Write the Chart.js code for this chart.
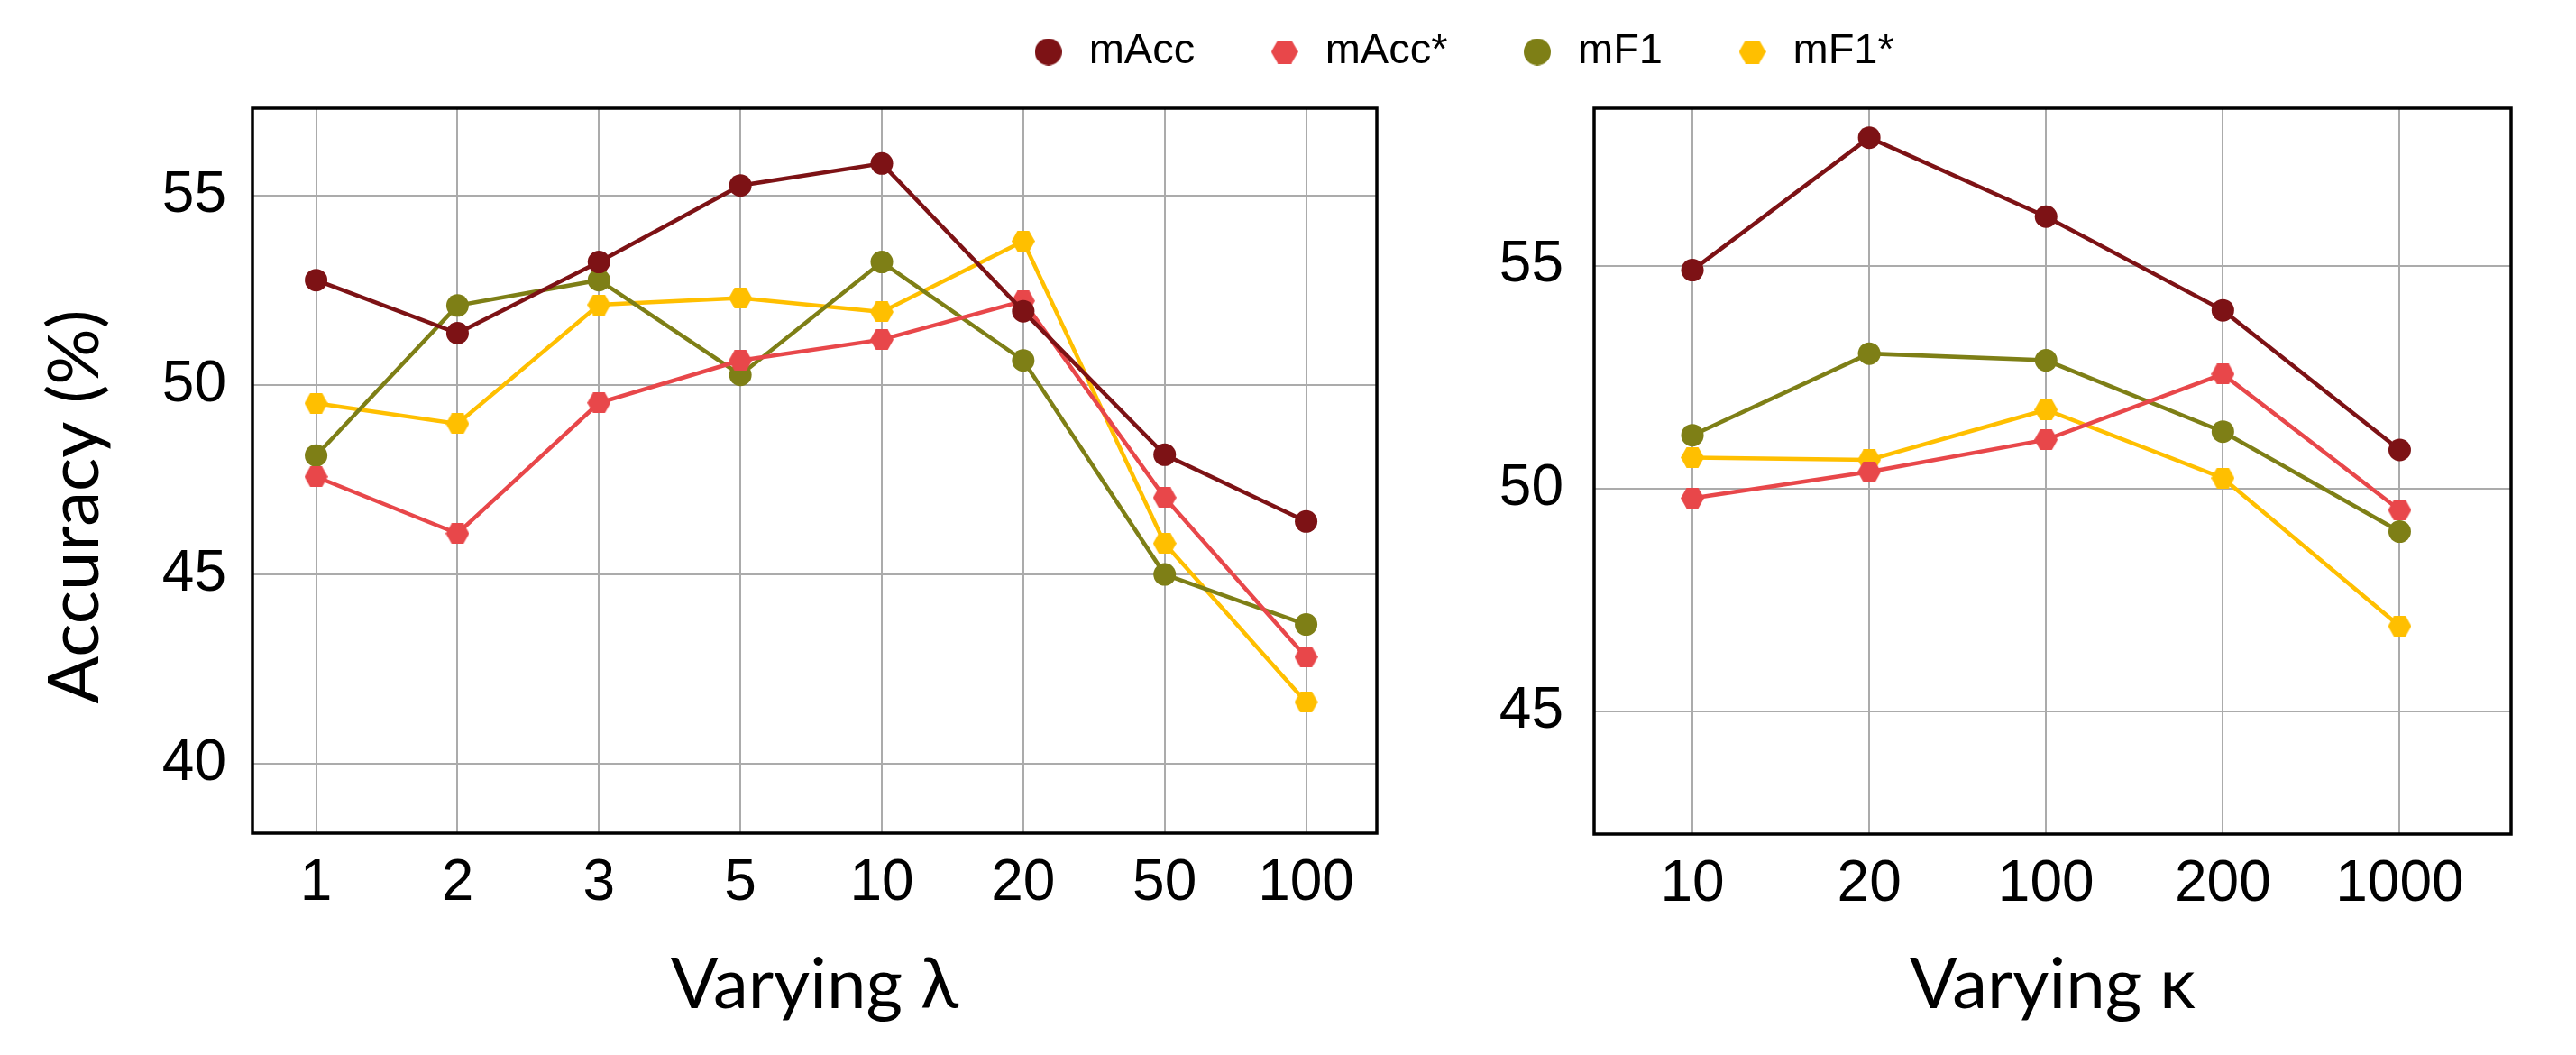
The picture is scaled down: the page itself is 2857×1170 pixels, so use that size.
<!DOCTYPE html>
<html lang="en">
<head>
    <meta charset="UTF-8">
    <title>Varying lambda / kappa</title>
    <script src="https://cdn.jsdelivr.net/npm/chart.js"></script>
</head>
<body>
<div id="legendBox"><canvas id="legendChart"></canvas></div>
<div id="leftBox"><canvas id="lambdaChart"></canvas></div>
<div id="rightBox"><canvas id="kappaChart"></canvas></div>
<script>
    // data
    const seriesNames = ['mAcc', 'mAcc*', 'mF1', 'mF1*'];
    const seriesColors = ['#7d1215', '#e8474a', '#7e7f16', '#ffbf00'];

    const lambdaLabels = ['1', '2', '3', '5', '10', '20', '50', '100'];
    const lambdaMAcc = [52.77, 51.37, 53.25, 55.27, 55.85, 51.95, 48.16, 46.4];
    const lambdaMAccStar = [47.58, 46.08, 49.53, 50.65, 51.2, 52.22, 47.03, 42.82];
    const lambdaMF1 = [48.14, 52.1, 52.77, 50.27, 53.25, 50.65, 45.0, 43.68];
    const lambdaMF1Star = [49.52, 48.98, 52.12, 52.3, 51.93, 53.8, 45.82, 41.63];
    const lambdaYTicks = [40, 45, 50, 55];

    const kappaLabels = ['10', '20', '100', '200', '1000'];
    const kappaMAcc = [54.9, 57.87, 56.1, 54.0, 50.87];
    const kappaMAccStar = [49.79, 50.38, 51.1, 52.57, 49.52];
    const kappaMF1 = [51.2, 53.03, 52.88, 51.28, 49.04];
    const kappaMF1Star = [50.7, 50.65, 51.77, 50.24, 46.92];
    const kappaYTicks = [45, 50, 55];

    const tickFont = {family: '"Liberation Sans", Arial, sans-serif', size: 64};
    const titleFont = {family: 'Lato, "Open Sans", sans-serif', size: 78};

    function hexagon(color, w) {
        const c = document.createElement('canvas');
        const r = w / 2;
        const h = Math.round(Math.sqrt(3) * r);
        c.width = w;
        c.height = h;
        const ctx = c.getContext('2d');
        ctx.fillStyle = color;
        ctx.beginPath();
        for (let i = 0; i < 6; i++) {
            const a = i * Math.PI / 3;
            ctx.lineTo(r + r * Math.cos(a), h / 2 + r * Math.sin(a) * (h / 2) / (r * Math.sqrt(3) / 2));
        }
        ctx.closePath();
        ctx.fill();
        return c;
    }

    function dot(color, w) {
        const c = document.createElement('canvas');
        c.width = w;
        c.height = w;
        const ctx = c.getContext('2d');
        ctx.fillStyle = color;
        ctx.beginPath();
        ctx.arc(w / 2, w / 2, w / 2, 0, Math.PI * 2);
        ctx.fill();
        return c;
    }

    // even series are circles, odd ones (the * variants) hexagons
    function marker(i, size) {
        return i % 2 === 0 ? dot(seriesColors[i], size) : hexagon(seriesColors[i], size);
    }

    function makeDatasets(values) {
        return values.map((vals, i) => ({
            label: seriesNames[i],
            data: vals.map((v, j) => ({x: j, y: v})),
            borderColor: seriesColors[i],
            backgroundColor: seriesColors[i],
            borderWidth: 4.5,
            pointStyle: i % 2 === 0 ? 'circle' : hexagon(seriesColors[i], 26),
            pointRadius: 12.5,
            pointBorderWidth: 0,
            tension: 0
        }));
    }

    // black frame round the plot area
    const frame = {
        id: 'frame',
        afterDraw(chart) {
            const a = chart.chartArea;
            const ctx = chart.ctx;
            ctx.save();
            ctx.strokeStyle = '#000';
            ctx.lineWidth = 3.5;
            ctx.strokeRect(a.left, a.top, a.right - a.left, a.bottom - a.top);
            ctx.restore();
        }
    };

    function panel(canvasId, labels, values, yTicks, opts) {
        return new Chart(document.getElementById(canvasId), {
            type: 'line',
            data: {datasets: makeDatasets(values)},
            options: {
                animation: false,
                responsive: true,
                maintainAspectRatio: false,
                layout: {padding: {top: 120, right: opts.padRight, left: 0, bottom: 0}},
                plugins: {legend: {display: false}, tooltip: {enabled: false}},
                scales: {
                    x: {
                        type: 'linear',
                        min: opts.xMin,
                        max: opts.xMax,
                        afterBuildTicks: s => { s.ticks = labels.map((_, i) => ({value: i})); },
                        afterFit: s => { s.height = opts.xAxisHeight; },
                        ticks: {
                            callback: v => labels[v],
                            font: tickFont,
                            color: '#000',
                            padding: 18,
                            maxRotation: 0,
                            autoSkip: false
                        },
                        grid: {color: '#ababab', lineWidth: 2, drawTicks: false},
                        border: {display: false},
                        title: {
                            display: true,
                            text: opts.xTitle,
                            font: titleFont,
                            color: '#000',
                            padding: {top: 0, bottom: 30}
                        }
                    },
                    y: {
                        min: opts.yMin,
                        max: opts.yMax,
                        afterBuildTicks: s => { s.ticks = yTicks.map(v => ({value: v})); },
                        afterFit: s => { s.width = opts.yAxisWidth; },
                        ticks: {font: tickFont, color: '#000', padding: opts.yPad},
                        grid: {color: '#ababab', lineWidth: 2, drawTicks: false},
                        border: {display: false},
                        title: {
                            display: !!opts.yTitle,
                            text: opts.yTitle || '',
                            font: titleFont,
                            color: '#000',
                            padding: {top: 37, bottom: 0}
                        }
                    }
                }
            },
            plugins: [frame]
        });
    }

    panel('lambdaChart', lambdaLabels,
        [lambdaMAcc, lambdaMAccStar, lambdaMF1, lambdaMF1Star], lambdaYTicks, {
            xMin: -0.45, xMax: 7.5, yMin: 38.17, yMax: 57.31,
            padRight: 33, yAxisWidth: 280, xAxisHeight: 246, yPad: 29,
            xTitle: 'Varying λ',
            // trailing spaces nudge the rotated title down a little, as in the original
            yTitle: 'Accuracy (%)    '
        });

    panel('kappaChart', kappaLabels,
        [kappaMAcc, kappaMAccStar, kappaMF1, kappaMF1Star], kappaYTicks, {
            xMin: -0.556, xMax: 4.63, yMin: 42.26, yMax: 58.53,
            padRight: 72, yAxisWidth: 168, xAxisHeight: 245, yPad: 34,
            xTitle: 'Varying κ'
        });

    // shared legend on its own canvas, centred over both panels
    new Chart(document.getElementById('legendChart'), {
        type: 'line',
        data: {
            datasets: seriesNames.map((name, i) => ({
                label: name,
                data: [],
                pointStyle: marker(i, 30),
                borderColor: seriesColors[i],
                backgroundColor: seriesColors[i]
            }))
        },
        options: {
            animation: false,
            responsive: true,
            maintainAspectRatio: false,
            scales: {x: {display: false}, y: {display: false}},
            plugins: {
                tooltip: {enabled: false},
                legend: {
                    display: true,
                    position: 'top',
                    labels: {
                        usePointStyle: true,
                        pointStyleWidth: 43,
                        boxHeight: 30,
                        padding: 78,
                        color: '#000',
                        font: {family: '"Liberation Sans", Arial, sans-serif', size: 47}
                    }
                }
            }
        }
    });
</script>
</body>
</html>
<style>
    body {
        margin: 0;
        background: #fff;
        overflow: hidden;
    }

    #legendBox {
        position: absolute;
        left: 401px;
        top: -44px;
        width: 2440px;
        height: 240px;
    }

    #leftBox {
        position: absolute;
        left: 0;
        top: 0;
        width: 1560px;
        height: 1170px;
    }

    #rightBox {
        position: absolute;
        left: 1600px;
        top: 0;
        width: 1257px;
        height: 1170px;
    }
</style>
